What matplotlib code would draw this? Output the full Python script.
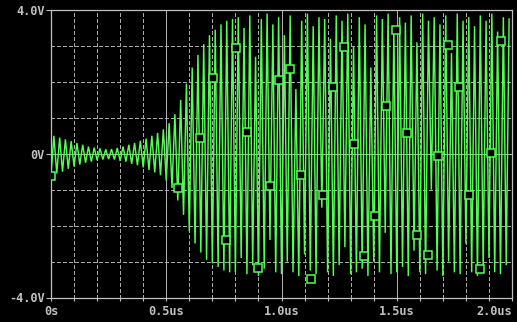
import numpy as np
import matplotlib
matplotlib.use("Agg")
import matplotlib.pyplot as plt
from matplotlib.ticker import MultipleLocator

# ---- data ----
# waveform vertices, one per half-period step (time step in us)
step_us = 0.0125
wave_v = [
    # 0 .. 0.8 us : decaying ring, then growth
    -0.6, 0.5, -0.55, 0.45, -0.5, 0.4, -0.42, 0.35, -0.35, 0.3,
    -0.3, 0.25, -0.25, 0.2, -0.22, 0.17, -0.18, 0.15, -0.16, 0.12,
    -0.15, 0.13, -0.16, 0.16, -0.2, 0.2, -0.22, 0.25, -0.28, 0.3,
    -0.32, 0.36, -0.38, 0.42, -0.45, 0.5, -0.52, 0.58, -0.6, 0.68,
    -0.75, 0.85, -0.95, 1.1, -1.3, 1.5, -1.7, 1.95, -2.15, 2.4,
    -2.5, 2.75, -2.75, 3.05, -2.95, 3.3, -3.05, 3.45, -3.15, 3.6,
    -3.25, 3.7, -3.3, 3.75,
    # 0.8 .. 2.0 us : steady oscillation
    -3.3, 3.8, -2.9, 3.5, -3.35, 3.85, -3.1, 2.7, -3.4, 3.75,
    -3.2, 3.9, -2.4, 3.6, -3.3, 3.8, -3.35, 3.3, -3.0, 3.85,
    -3.3, 1.8, -3.4, 3.7, -2.8, 3.9, -3.25, 3.55, -3.35, 3.8,
    -1.5, 3.75, -3.3, 3.2, -3.4, 3.85, -3.1, 3.7, -2.6, 3.9,
    -3.35, 3.0, -3.3, 3.8, -3.2, 3.6, -3.4, 2.4, -3.0, 3.85,
    -3.3, 3.75, -2.2, 3.9, -3.35, 3.5, -3.3, 3.8, -3.15, 3.65,
    -3.4, 3.85, -2.7, 3.1, -3.3, 3.9, -3.35, 3.7, -1.0, 3.8,
    -3.25, 3.6, -3.4, 3.85, -3.0, 2.8, -3.3, 3.9, -3.35, 3.7,
    -2.5, 3.8, -3.3, 3.55, -3.4, 3.85, -3.2, 3.7, -2.9, 3.9,
    -3.3, 3.4, -3.35, 3.8, -3.1, 3.75,
]

marker_t = [0.0, 0.552, 0.648, 0.704, 0.761, 0.804, 0.852, 0.900, 0.948, 0.991,
            1.039, 1.083, 1.130, 1.178, 1.222, 1.270, 1.313, 1.357, 1.404, 1.452,
            1.496, 1.543, 1.587, 1.635, 1.678, 1.722, 1.770, 1.813, 1.861, 1.909,
            1.952]
marker_v = [-0.61, -0.95, 0.45, 2.12, -2.40, 2.95, 0.61, -3.18, -0.89, 2.06,
            2.37, -0.58, -3.48, -1.14, 1.87, 2.98, 0.28, -2.84, -1.73, 1.34,
            3.43, 0.58, -2.26, -2.81, -0.06, 3.04, 1.87, -1.14, -3.20, 0.03,
            3.15]

x_ticks = [0.0, 0.5, 1.0, 1.5, 2.0]
x_labels = ["0s", "0.5us", "1.0us", "1.5us", "2.0us"]
y_ticks = [-4.0, 0.0, 4.0]
y_labels = ["-4.0V", "0V", "4.0V"]

# ---- styling ----
BG = "black"
GREEN = "#50FF50"
AXC = "#C0C0C0"
GRIDC = "#A8A8A8"

W, H = 517, 322
fig = plt.figure(figsize=(W / 100, H / 100), dpi=100, facecolor=BG)
L, R, T, B = 51, 512, 10, 297.5
ax = fig.add_axes([L / W, (H - B) / H, (R - L) / W, (B - T) / H], facecolor=BG)

t = np.arange(len(wave_v)) * step_us
ax.plot(t, wave_v, color=GREEN, lw=1.05, antialiased=True, zorder=3,
        solid_joinstyle="miter")
ax.plot(marker_t, marker_v, ls="none", marker="s", ms=5.2, mfc=BG, mec=GREEN,
        mew=1.1, zorder=4)

ax.set_xlim(0, 2.0)
ax.set_ylim(-4.0, 4.0)

# grid
for k in range(1, 20):
    xv = k * 0.1
    solid = (k % 5 == 0)
    ax.axvline(xv, color="#B0B0B0" if solid else GRIDC, lw=0.7,
               ls="-" if solid else (0, (4, 3)), zorder=1, antialiased=False,
               snap=True)
for yv in [-3, -2, -1, 1, 2, 3]:
    ax.axhline(yv, color=GRIDC, lw=0.7, ls=(0, (4, 3)), zorder=1,
               antialiased=False, snap=True)
ax.axhline(0, color="#B0B0B0", lw=0.7, zorder=1, antialiased=False, snap=True)

for s in ax.spines.values():
    s.set_color(AXC)
    s.set_linewidth(0.9)

ax.set_xticks(x_ticks)
ax.set_xticklabels(x_labels)
ax.xaxis.set_minor_locator(MultipleLocator(0.1))
ax.set_yticks(y_ticks)
ax.set_yticklabels(y_labels)
ax.tick_params(axis="x", which="both", direction="out", length=2.5, width=0.8,
               color=AXC, labelcolor=AXC, pad=3)
ax.tick_params(axis="y", which="both", direction="out", length=3.6, width=0.8,
               color=AXC, labelcolor=AXC, pad=1)
for lab in ax.get_xticklabels() + ax.get_yticklabels():
    lab.set_fontfamily("DejaVu Sans Mono")
    lab.set_fontsize(8.6)
    lab.set_fontweight("bold")
ax.get_xticklabels()[-1].set_horizontalalignment("right")

fig.savefig("out.png", dpi=100, facecolor=BG)
